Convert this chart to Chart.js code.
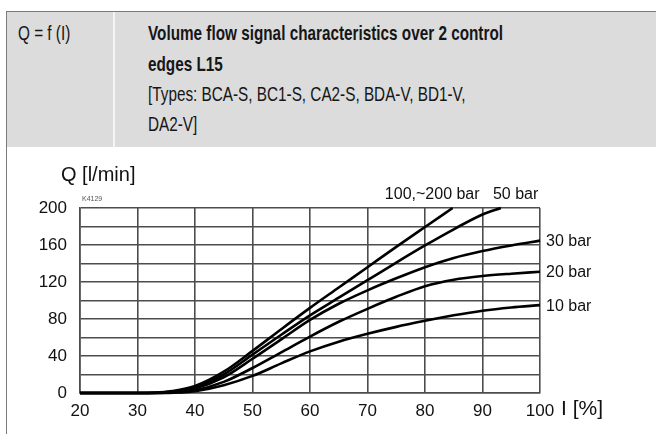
<!DOCTYPE html>
<html>
<head>
<meta charset="utf-8">
<script src="https://cdn.jsdelivr.net/npm/chart.js@4/dist/chart.umd.min.js"></script>
<style>
  html, body { margin: 0; padding: 0; background: #fff; }
  body { width: 656px; height: 434px; position: relative; overflow: hidden; }
  #hdr { position: absolute; left: 6px; top: 11px; width: 650px; height: 135px;
         background: #dcdcdd; border-top: 1px solid #7a7a7a; border-left: 1px solid #7a7a7a;
         font-family: "Liberation Sans", Arial, sans-serif; color: #161616; }
  #c1 { position: absolute; left: 0; top: 0; width: 106px; height: 135px; border-right: 2px solid #f4f4f4; }
  .ln { position: absolute; white-space: nowrap; font-size: 21px; line-height: 30px; height: 30px;
        transform-origin: 0 50%; }
  .b { font-weight: bold; }
  #vline { position: absolute; left: 6px; top: 146px; width: 1px; height: 288px; background: #7a7a7a; }
  #wrap { position: absolute; left: 0; top: 0; width: 656px; height: 434px; }
</style>
</head>
<body>
<div id="hdr">
  <div id="c1"><div class="ln" id="q" style="left:11px; top:6px;">Q = f (I)</div></div>
  <div class="ln b" id="l1" style="left:141px; top:6px;">Volume flow signal characteristics over 2 control</div>
  <div class="ln b" id="l2" style="left:141px; top:37px;">edges L15</div>
  <div class="ln" id="l3" style="left:141px; top:67px;">[Types: BCA-S, BC1-S, CA2-S, BDA-V, BD1-V,</div>
  <div class="ln" id="l4" style="left:141px; top:97px;">DA2-V]</div>
</div>
<div id="vline"></div>
<div id="wrap"><canvas id="chart" width="656" height="434"></canvas></div>
<script>
// ---- data ----
const seriesLabels = ["100,~200 bar", "50 bar", "30 bar", "20 bar", "10 bar"];
const xBar200 = [20, 30, 33, 36, 40, 45, 50, 55, 60, 65, 70, 75, 80, 84.8];
const qBar200 = [0, 0, 0.3, 2, 7.5, 23, 45.5, 69, 92, 114, 136, 158, 179.5, 200];
const xBar50  = [20, 30, 33, 36, 40, 45, 50, 55, 60, 65, 70, 75, 80, 85, 90, 93.2];
const qBar50  = [0, 0, 0.2, 1.5, 6, 20, 41.5, 63, 84, 103, 122, 141, 159.5, 177, 193, 200];
const xBar30  = [20, 30, 33, 36, 40, 45, 50, 55, 60, 65, 70, 75, 80, 85, 90, 95, 100];
const qBar30  = [0, 0, 0.1, 1, 5, 17, 37, 58, 79, 96.5, 111, 124, 136, 146, 153.5, 159.5, 164.7];
const xBar20  = [20, 30, 34, 36, 40, 45, 50, 55, 60, 65, 70, 75, 80, 85, 90, 95, 100];
const qBar20  = [0, 0, 0, 0.5, 3, 12, 27, 44, 61, 77, 91, 104, 115.5, 122.5, 126.5, 129, 131];
const xBar10  = [20, 30, 35, 37, 40, 45, 50, 55, 60, 65, 70, 75, 80, 85, 90, 95, 100];
const qBar10  = [0, 0, 0, 0.5, 2, 8.5, 18.5, 32, 45, 55.5, 64, 71.5, 78, 84, 89, 92.5, 95];
const xTicks = [20, 30, 40, 50, 60, 70, 80, 90, 100];
const yTickLabels = [0, 40, 80, 120, 160, 200];
const yTitle = "Q [l/min]";
const xTitle = "I [%]";
const codeLabel = "K4129";

// condense header text (reference uses a narrow typeface)
(function () {
  const k = 355 / document.getElementById("l1").getBoundingClientRect().width;
  ["q", "l1", "l2", "l3", "l4"].forEach(id => {
    document.getElementById(id).style.transform = "scaleX(" + k + ")";
  });
})();

const xs = [xBar200, xBar50, xBar30, xBar20, xBar10];
const qs = [qBar200, qBar50, qBar30, qBar20, qBar10];
const datasets = seriesLabels.map((lab, i) => ({
  label: lab,
  data: xs[i].map((x, j) => ({ x: x, y: qs[i][j] })),
  borderColor: "#000",
  borderWidth: 2.6,
  pointRadius: 0,
  fill: false,
  cubicInterpolationMode: "monotone",
  clip: 2
}));

const FONT = "'Liberation Sans', Arial, sans-serif";

const labelsPlugin = {
  id: "labelsPlugin",
  afterDraw(chart) {
    const ctx = chart.ctx;
    const xs_ = chart.scales.x, ys_ = chart.scales.y;
    const ca = chart.chartArea;
    ctx.save();
    ctx.fillStyle = "#111";
    ctx.textBaseline = "middle";
    ctx.font = "16px " + FONT;
    ctx.textAlign = "right";
    const d0 = chart.data.datasets[0].data;
    ctx.fillText(seriesLabels[0], xs_.getPixelForValue(d0[d0.length - 1].x) + 27, ca.top - 13);
    const d1 = chart.data.datasets[1].data;
    ctx.textAlign = "left";
    ctx.fillText(seriesLabels[1], xs_.getPixelForValue(d1[d1.length - 1].x) - 8, ca.top - 13);
    for (let i = 2; i < 5; i++) {
      const d = chart.data.datasets[i].data;
      const p = d[d.length - 1];
      ctx.fillText(seriesLabels[i], xs_.getPixelForValue(p.x) + 6, ys_.getPixelForValue(p.y) + 1);
    }
    ctx.font = "20px " + FONT;
    ctx.textAlign = "left";
    ctx.fillText(yTitle, 61, ca.top - 33);
    ctx.font = "21px " + FONT;
    ctx.fillText(xTitle, ca.right + 21, ca.bottom + 16);
    ctx.font = "7px " + FONT;
    ctx.fillStyle = "#555";
    ctx.fillText(codeLabel, ca.left + 2, ca.top - 9);
    ctx.restore();
  }
};

new Chart(document.getElementById("chart"), {
  type: "line",
  data: { datasets: datasets },
  options: {
    responsive: false,
    animation: false,
    events: [],
    layout: { padding: { left: 0, top: 208, right: 116, bottom: 11 } },
    plugins: { legend: { display: false }, tooltip: { enabled: false } },
    scales: {
      x: {
        type: "linear", min: 20, max: 100,
        afterBuildTicks(s) { s.ticks = xTicks.map(v => ({ value: v })); },
        afterFit(s) { s.height = 30; },
        grid: { color: "#4d4d4d", lineWidth: 1.6, drawTicks: false },
        border: { color: "#4d4d4d", width: 1.6 },
        ticks: { color: "#111", font: { family: FONT, size: 17 }, padding: 8, maxRotation: 0, autoSkip: false }
      },
      y: {
        type: "linear", min: 0, max: 200,
        ticks: {
          stepSize: 20, color: "#111", font: { family: FONT, size: 17 }, padding: 13, autoSkip: false,
          callback: (v) => yTickLabels.includes(v) ? String(v) : ""
        },
        afterFit(s) { s.width = 80; },
        grid: { color: "#4d4d4d", lineWidth: 1.6, drawTicks: false },
        border: { color: "#4d4d4d", width: 1.6 }
      }
    }
  },
  plugins: [labelsPlugin]
});
</script>
</body>
</html>
